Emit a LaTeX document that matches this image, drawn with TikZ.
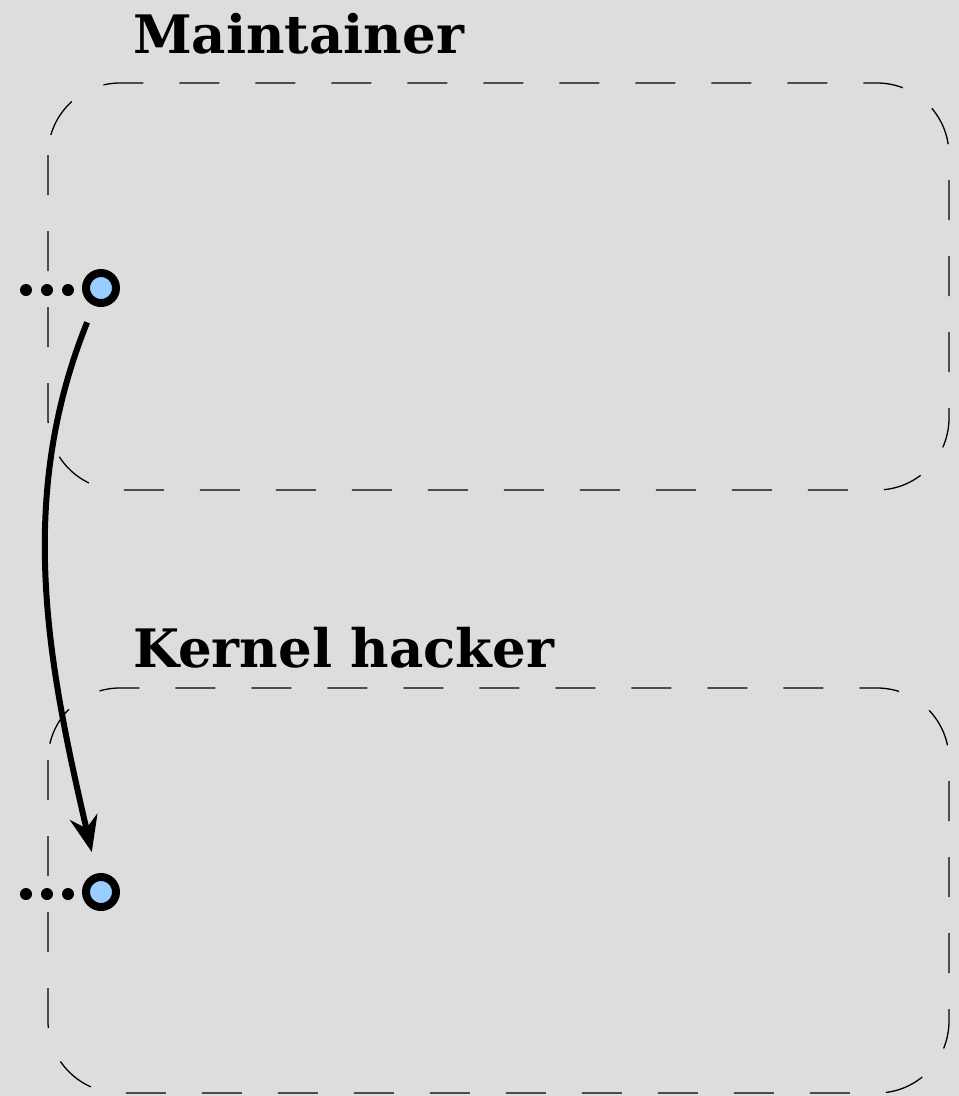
\documentclass[tikz,border=0pt]{standalone}
\usepackage{fontspec}
\setmainfont{DejaVu Serif}
\usepackage{xcolor}
\definecolor{bgray}{RGB}{221,221,221}
\definecolor{portblue}{RGB}{153,204,255}
\usetikzlibrary{arrows.meta,positioning}

\begin{document}
\begin{tikzpicture}[x=1pt,y=-1pt,
    lane/.style={draw=black,line width=1.3pt,dash pattern=on 40pt off 36pt,rounded corners=72pt},
    title/.style={anchor=base west,inner sep=0pt,font=\fontsize{53}{60}\selectfont\bfseries},
    port/.style={circle,draw=black,fill=portblue,line width=8pt,minimum size=30pt,inner sep=0pt},
    dot/.style={circle,fill=black,minimum size=12pt,inner sep=0pt},
    flow/.style={line width=6pt,-{Stealth[length=36pt,width=28pt]}}]
    \fill[bgray] (0,0) rectangle (959,1096);
    \useasboundingbox (0,0) rectangle (959,1096);
    % lanes
    \draw[lane] (48,83) rectangle (949,490);
    \draw[lane] (48,688) rectangle (949,1093);
    \node[title] (mtitle) at (133,53) {Maintainer};
    \node[title] (ktitle) at (133,667) {Kernel hacker};
    % ports
    \node[port] (mport) at (101,288) {};
    \node[port] (kport) at (101,892) {};
    \foreach \i/\x in {1/26,2/47,3/68} {
        \node[dot] (mdot\i) at (\x,290) {};
        \node[dot] (kdot\i) at (\x,894) {};
    }
    % handover
    \draw[flow,shorten <=18pt,shorten >=22pt] (mport) to[out=248,in=103,looseness=0.95] (kport);
\end{tikzpicture}
\end{document}
